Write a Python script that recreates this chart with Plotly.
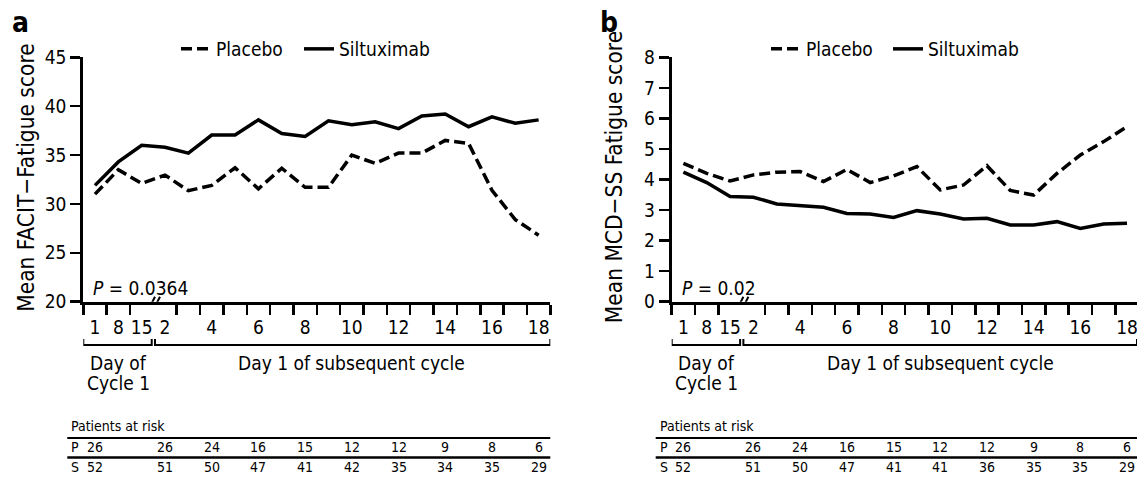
import plotly.graph_objects as go

W, H = 1137, 486

# ---------------- data ----------------
x_labels = ["1", "8", "15"] + [str(c) for c in range(2, 19)]
shown_labels = ["1", "8", "15", "2", "4", "6", "8", "10", "12", "14", "16", "18"]

facit_placebo = [31.0, 33.5, 32.1, 32.95, 31.35, 31.9, 33.7, 31.55, 33.65, 31.7,
                 31.7, 35.0, 34.15, 35.2, 35.2, 36.5, 36.2, 31.4, 28.4, 26.8]
facit_siltuximab = [31.9, 34.3, 36.0, 35.8, 35.2, 37.05, 37.05, 38.6, 37.2, 36.9,
                    38.5, 38.1, 38.4, 37.7, 39.0, 39.2, 37.9, 38.9, 38.25, 38.6]
mcd_placebo = [4.53, 4.2, 3.95, 4.15, 4.24, 4.26, 3.93, 4.33, 3.9, 4.12,
               4.42, 3.66, 3.82, 4.45, 3.64, 3.49, 4.2, 4.8, 5.24, 5.73]
mcd_siltuximab = [4.24, 3.9, 3.44, 3.42, 3.2, 3.14, 3.09, 2.89, 2.87, 2.76,
                  2.98, 2.87, 2.71, 2.73, 2.51, 2.51, 2.62, 2.4, 2.54, 2.57]

risk_labels = ["1", "2", "4", "6", "8", "10", "12", "14", "16", "18"]
risk_placebo_a = [26, 26, 24, 16, 15, 12, 12, 9, 8, 6]
risk_siltux_a = [52, 51, 50, 47, 41, 42, 35, 34, 35, 29]
risk_placebo_b = [26, 26, 24, 16, 15, 12, 12, 9, 8, 6]
risk_siltux_b = [52, 51, 50, 47, 41, 41, 36, 35, 35, 29]

# ---------------- layout helpers ----------------
FONT = "'Liberation Sans Narrow', 'Arial Narrow', 'DejaVu Sans Condensed', sans-serif"


def px(x):
    return x / W


def py(y):
    return 1 - y / H


pos = [i + 0.5 for i in range(len(x_labels))]
label_idx = [0, 1, 2] + [3 + (c - 2) for c in range(2, 19, 2)]
label_pos = [pos[i] for i in label_idx]
risk_idx = [0] + [3 + (c - 2) for c in range(2, 19, 2)]
risk_pos = [pos[i] for i in risk_idx]
tick_pos = [0, 1, 2] + list(range(4, 21))

STEP = 23.35
AX_A = 83.3
AX_B = 671.7
Y_TOP, Y_BOT = 57.3, 301.7
range_a = [0, 20]
range_b = [0, (W - AX_B) / STEP]

dash = "11px,5px"
LW = 3.5

fig = go.Figure()
panels = [
    ("x", "y", "x3", "legend", "legend2", facit_placebo, facit_siltuximab),
    ("x2", "y2", "x4", "legend3", "legend4", mcd_placebo, mcd_siltuximab),
]
for xa, ya, xl, lg1, lg2, pl, si in panels:
    fig.add_trace(go.Scatter(x=pos, y=pl, mode="lines", name="Placebo",
                             line=dict(color="black", width=LW, dash=dash),
                             xaxis=xa, yaxis=ya, legend=lg1, showlegend=True,
                             hoverinfo="skip"))
    fig.add_trace(go.Scatter(x=pos, y=si, mode="lines", name="Siltuximab",
                             line=dict(color="black", width=LW),
                             xaxis=xa, yaxis=ya, legend=lg2, showlegend=True,
                             hoverinfo="skip"))
    fig.add_trace(go.Scatter(x=[], y=[], xaxis=xl, yaxis=ya, showlegend=False,
                             hoverinfo="skip"))

common = dict(showline=True, linecolor="black", linewidth=3, ticks="outside",
              ticklen=10, tickwidth=2.5, tickcolor="black", showgrid=False,
              zeroline=False, automargin=False,
              tickfont=dict(family=FONT, size=19, color="black"))

dom_a = [px(AX_A), px(AX_A + STEP * 20)]
dom_b = [px(AX_B), 1.0]
ydom = [py(Y_BOT), py(Y_TOP)]

label_axis = dict(ticks="outside", ticklen=8, tickcolor="rgba(0,0,0,0)",
                  showline=False, showgrid=False, zeroline=False, automargin=False,
                  ticklabeloverflow="allow",
                  tickfont=dict(family=FONT, size=19, color="black"),
                  tickvals=label_pos, ticktext=shown_labels)

legend_common = dict(orientation="h", xanchor="left", y=py(49), yanchor="middle",
                     font=dict(family=FONT, size=19), bgcolor="rgba(0,0,0,0)",
                     itemwidth=30, visible=True)

fig.update_layout(
    width=W, height=H, margin=dict(l=0, r=0, t=0, b=0, autoexpand=False),
    paper_bgcolor="white", plot_bgcolor="white", showlegend=True,
    font=dict(family=FONT, size=19, color="black"),
    xaxis=dict(common, domain=dom_a, range=range_a, tickvals=tick_pos,
               showticklabels=False, anchor="y"),
    xaxis2=dict(common, domain=dom_b, range=range_b, tickvals=tick_pos,
                showticklabels=False, anchor="y2"),
    xaxis3=dict(label_axis, overlaying="x", anchor="y", domain=dom_a, range=range_a),
    xaxis4=dict(label_axis, overlaying="x2", anchor="y2", domain=dom_b, range=range_b),
    yaxis=dict(common, domain=ydom, range=[20, 45], tickvals=list(range(20, 46, 5)),
               anchor="x"),
    yaxis2=dict(common, domain=ydom, range=[0, 8], tickvals=list(range(0, 9)),
                anchor="x2"),
    legend=dict(legend_common, x=px(176)),
    legend2=dict(legend_common, x=px(299)),
    legend3=dict(legend_common, x=px(766)),
    legend4=dict(legend_common, x=px(888)),
)

annotations = []
shapes = []

# panel letters and y titles
for ax0, letter, title in [(AX_A, "a", "Mean FACIT\u2212Fatigue score"),
                           (AX_B, "b", "Mean MCD\u2212SS Fatigue score")]:
    annotations.append(dict(text=f"<b>{letter}</b>", x=px(ax0 - 63), y=py(23),
                            xref="paper", yref="paper", xanchor="center", yanchor="middle",
                            showarrow=False, font=dict(family=FONT, size=28)))
    annotations.append(dict(text=title, x=px(ax0 - 57.5), y=py(177), textangle=-90,
                            xref="paper", yref="paper", xanchor="center", yanchor="middle",
                            showarrow=False, font=dict(family=FONT, size=22.5)))

pvals = [(AX_A, "<i>P</i> = 0.0364"), (AX_B, "<i>P</i> = 0.02")]
for ax0, txt in pvals:
    annotations.append(dict(text=txt, x=px(ax0 + 8), y=py(288), xref="paper", yref="paper",
                            xanchor="left", yanchor="middle", showarrow=False,
                            font=dict(family=FONT, size=19)))

# axis break marks
for xa, ya, y0 in [("x", "y", 20), ("x2", "y2", 0)]:
    shapes.append(dict(type="line", xref=xa, yref=ya, xsizemode="pixel", ysizemode="pixel",
                       xanchor=3.07, yanchor=y0, x0=-2, x1=2, y0=0, y1=0,
                       line=dict(color="white", width=4), layer="above"))
    for dx in (-5, 0):
        shapes.append(dict(type="line", xref=xa, yref=ya, xsizemode="pixel",
                           ysizemode="pixel", xanchor=3.07, yanchor=y0,
                           x0=dx, x1=dx + 5, y0=-5, y1=5,
                           line=dict(color="black", width=2), layer="above"))

# brackets and group texts
BR_Y = 345
for xa, x_end in [("x", 20), ("x2", range_b[1])]:
    for a, b in [(0.0, 2.93), (3.07, x_end)]:
        shapes.append(dict(type="path", xref=xa, yref="paper",
                           path=f"M {a},{py(BR_Y - 6)} L {a},{py(BR_Y)} L {b},{py(BR_Y)} L {b},{py(BR_Y - 6)}",
                           line=dict(color="black", width=2)))
    for txt, xx, yy in [("Day of", 1.5, 363), ("Cycle 1", 1.5, 383),
                        ("Day 1 of subsequent cycle", 11.5, 363)]:
        annotations.append(dict(text=txt, x=xx, y=py(yy), xref=xa, yref="paper",
                                xanchor="center", yanchor="middle", showarrow=False,
                                font=dict(family=FONT, size=19)))

# patients at risk tables
tables = [("x", AX_A, risk_placebo_a, risk_siltux_a, AX_A + STEP * 20),
          ("x2", AX_B, risk_placebo_b, risk_siltux_b, W)]
for xa, ax0, rp, rs, xend in tables:
    left = ax0 - 16
    annotations.append(dict(text="Patients at risk", x=px(left + 2), y=py(425.5), xref="paper",
                            yref="paper", xanchor="left", yanchor="middle", showarrow=False,
                            font=dict(family=FONT, size=14)))
    for yy, lw in ((438, 2), (457.5, 2.5)):
        shapes.append(dict(type="line", xref="paper", yref="paper", x0=px(left), x1=px(xend),
                           y0=py(yy), y1=py(yy), line=dict(color="black", width=lw)))
    for lab, row, yy in [("P", rp, 447), ("S", rs, 467)]:
        annotations.append(dict(text=lab, x=px(left + 2), y=py(yy), xref="paper", yref="paper",
                                xanchor="left", yanchor="middle", showarrow=False,
                                font=dict(family=FONT, size=14)))
        for xv, v in zip(risk_pos, row):
            annotations.append(dict(text=str(v), x=xv, y=py(yy), xref=xa, yref="paper",
                                    xanchor="center", yanchor="middle", showarrow=False,
                                    font=dict(family=FONT, size=14)))

fig.update_layout(annotations=annotations, shapes=shapes)
fig.write_html("out.html", config={"displayModeBar": False, "staticPlot": True},
               post_script="document.body.style.margin='0';")
